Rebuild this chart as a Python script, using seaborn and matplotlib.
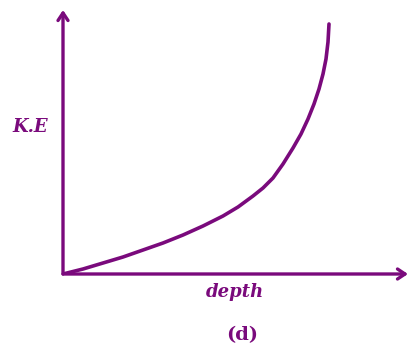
import matplotlib
matplotlib.use("Agg")
import matplotlib.pyplot as plt
import seaborn as sns
import pandas as pd

# data (arbitrary units)
depth = [0, 20, 40, 60, 80, 100, 120, 140, 160, 175, 190, 200, 210, 220,
         230, 238, 245, 251, 256, 260, 263, 265, 266]
ke = [0, 5, 11, 17, 24, 31, 39, 48, 58, 67, 78, 86, 96, 110,
      126, 140, 155, 170, 185, 200, 215, 232, 250]
x_label = "depth"
y_label = "K.E"
caption = "(d)"

sns.set_theme(style="white")
plt.rcParams['font.family'] = ['DejaVu Serif']

PURPLE = "#7a0a7c"
W, H = 409, 352
fig = plt.figure(figsize=(W / 100, H / 100), dpi=100)
ax = fig.add_axes([63 / W, (H - 274) / H, (408 - 63) / W, (274 - 10) / H])

df = pd.DataFrame({"depth": depth, "ke": ke})
sns.lineplot(data=df, x="depth", y="ke", ax=ax, color=PURPLE, linewidth=2.6,
             sort=False, estimator=None)
ax.lines[0].set_solid_capstyle("round")
ax.lines[0].set_solid_joinstyle("round")

ax.set_xlim(0, 345)
ax.set_ylim(0, 264)
for s in ax.spines.values():
    s.set_visible(False)
ax.set_xticks([])
ax.set_yticks([])
ax.set_xlabel("")
ax.set_ylabel("")

arrow = dict(arrowstyle="->,head_length=0.45,head_width=0.3", color=PURPLE, lw=2.4,
             shrinkA=0, shrinkB=0)
ax.annotate("", xy=(1.0, 0), xytext=(0, 0), xycoords="axes fraction", arrowprops=arrow)
ax.annotate("", xy=(0, 1.0), xytext=(0, 0), xycoords="axes fraction", arrowprops=arrow)

fig.text(30 / W, 1 - 127 / H, y_label, color=PURPLE, fontsize=13, fontweight="bold",
         fontstyle="italic", ha="center", va="center")
fig.text(235 / W, 1 - 292 / H, x_label, color=PURPLE, fontsize=13, fontweight="bold",
         fontstyle="italic", ha="center", va="center")
fig.text(242 / W, 1 - 335 / H, caption, color=PURPLE, fontsize=14, fontweight="bold",
         ha="center", va="center")

fig.savefig("out.png", dpi=100)
